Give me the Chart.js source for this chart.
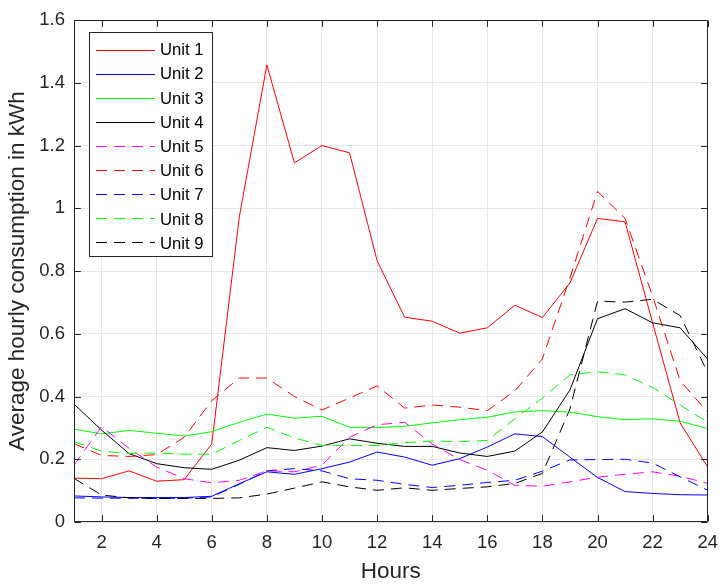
<!DOCTYPE html>
<html>
<head>
<meta charset="utf-8">
<title>Average hourly consumption</title>
<script src="https://cdn.jsdelivr.net/npm/chart.js@4.4.1/dist/chart.umd.min.js"></script>
<style>
  html, body { margin: 0; padding: 0; background: #ffffff; }
  #wrap { width: 728px; height: 584px; }
</style>
</head>
<body>
<div id="wrap"><canvas id="c" width="728" height="584"></canvas></div>
<script>
// Hour of day
const hours = [1, 2, 3, 4, 5, 6, 7, 8, 9, 10, 11, 12, 13, 14, 15, 16, 17, 18, 19, 20, 21, 22, 23, 24];

// Average hourly consumption per unit (kWh)
const unit1 = [0.140, 0.138, 0.163, 0.130, 0.135, 0.249, 0.973, 1.457, 1.145, 1.200, 1.177, 0.833, 0.653, 0.640, 0.602, 0.619, 0.691, 0.652, 0.762, 0.968, 0.957, 0.635, 0.316, 0.175];
const unit2 = [0.083, 0.080, 0.078, 0.078, 0.078, 0.082, 0.122, 0.160, 0.152, 0.170, 0.191, 0.223, 0.207, 0.181, 0.202, 0.239, 0.281, 0.272, 0.207, 0.142, 0.097, 0.091, 0.087, 0.086];
const unit3 = [0.296, 0.281, 0.292, 0.283, 0.274, 0.288, 0.318, 0.344, 0.331, 0.337, 0.302, 0.301, 0.305, 0.316, 0.326, 0.334, 0.351, 0.355, 0.350, 0.336, 0.326, 0.329, 0.321, 0.298];
const unit4 = [0.376, 0.293, 0.218, 0.186, 0.173, 0.168, 0.197, 0.237, 0.228, 0.242, 0.265, 0.251, 0.241, 0.241, 0.220, 0.209, 0.226, 0.287, 0.421, 0.648, 0.680, 0.635, 0.619, 0.519];
const unit5 = [0.181, 0.304, 0.235, 0.175, 0.138, 0.125, 0.133, 0.163, 0.160, 0.181, 0.270, 0.310, 0.318, 0.249, 0.199, 0.165, 0.117, 0.114, 0.128, 0.143, 0.152, 0.160, 0.146, 0.123];
const unit6 = [0.250, 0.212, 0.209, 0.215, 0.270, 0.387, 0.459, 0.459, 0.400, 0.357, 0.395, 0.434, 0.363, 0.373, 0.366, 0.355, 0.418, 0.520, 0.778, 1.054, 0.968, 0.720, 0.450, 0.350];
const unit7 = [0.077, 0.076, 0.076, 0.075, 0.076, 0.080, 0.120, 0.163, 0.170, 0.163, 0.138, 0.133, 0.120, 0.110, 0.117, 0.126, 0.133, 0.162, 0.198, 0.199, 0.200, 0.188, 0.144, 0.101];
const unit8 = [0.256, 0.226, 0.218, 0.220, 0.216, 0.216, 0.260, 0.302, 0.268, 0.244, 0.244, 0.244, 0.253, 0.258, 0.256, 0.260, 0.329, 0.395, 0.469, 0.479, 0.469, 0.429, 0.373, 0.318];
const unit9 = [0.139, 0.086, 0.077, 0.075, 0.075, 0.075, 0.077, 0.089, 0.108, 0.128, 0.112, 0.101, 0.109, 0.101, 0.107, 0.112, 0.123, 0.155, 0.360, 0.704, 0.701, 0.710, 0.658, 0.476];

const unitNames = ['Unit 1', 'Unit 2', 'Unit 3', 'Unit 4', 'Unit 5', 'Unit 6', 'Unit 7', 'Unit 8', 'Unit 9'];
const unitValues = [unit1, unit2, unit3, unit4, unit5, unit6, unit7, unit8, unit9];

// Tick positions
const xTickValues = [2, 4, 6, 8, 10, 12, 14, 16, 18, 20, 22, 24];
const yTickValues = [0, 0.2, 0.4, 0.6, 0.8, 1.0, 1.2, 1.4, 1.6];

// Line styles: solid for units 1-4, dashed for units 5-9
const lineColors = ['rgb(255,0,0)', 'rgb(0,0,255)', 'rgb(0,255,0)', 'rgb(0,0,0)', 'rgb(255,0,255)', 'rgb(255,0,0)', 'rgb(0,0,255)', 'rgb(0,255,0)', 'rgb(0,0,0)'];
const isDashed = [false, false, false, false, true, true, true, true, true];
const DASH_ON = 11, DASH_OFF = 7;

const FONT = '"Liberation Sans", Arial, Helvetica, sans-serif';
const AXIS_COLOR = '#262626';
const GRID_COLOR = '#e6e6e6';

const datasets = unitValues.map((vals, i) => ({
  label: unitNames[i],
  data: hours.map((h, k) => ({ x: h, y: vals[k] })),
  borderColor: lineColors[i],
  backgroundColor: lineColors[i],
  borderDash: isDashed[i] ? [DASH_ON, DASH_OFF] : [],
  borderWidth: 1,
  pointRadius: 0,
  pointHoverRadius: 0,
  tension: 0,
  fill: false,
  order: unitNames.length - i   // later units drawn on top
}));

// Box around the plot area with inward tick marks on all four sides
const axesBox = {
  id: 'axesBox',
  afterDatasetsDraw(chart) {
    const ctx = chart.ctx;
    const { left, right, top, bottom } = chart.chartArea;
    const L = Math.round(left) + 0.5, R = Math.round(right) - 0.5;
    const T = Math.round(top) + 0.5, B = Math.round(bottom) - 0.5;
    const tl = 6.4;
    ctx.save();
    ctx.strokeStyle = AXIS_COLOR;
    ctx.lineWidth = 1;
    ctx.setLineDash([]);
    ctx.beginPath();
    ctx.rect(L, T, R - L, B - T);
    chart.scales.x.ticks.forEach(t => {
      const px = Math.round(chart.scales.x.getPixelForValue(t.value)) + 0.5;
      ctx.moveTo(px, B); ctx.lineTo(px, B - tl);
      ctx.moveTo(px, T); ctx.lineTo(px, T + tl);
    });
    chart.scales.y.ticks.forEach(t => {
      const py = Math.round(chart.scales.y.getPixelForValue(t.value)) + 0.5;
      ctx.moveTo(L, py); ctx.lineTo(L + tl, py);
      ctx.moveTo(R, py); ctx.lineTo(R - tl, py);
    });
    ctx.stroke();
    ctx.restore();
  }
};

// Boxed legend placed inside the upper-left corner of the plot
const boxLegend = {
  id: 'boxLegend',
  afterDraw(chart) {
    const ctx = chart.ctx;
    const x0 = 89.5, y0 = 32.5, w = 123, h = 224;
    const sx0 = 96, sx1 = 155;
    ctx.save();
    ctx.setLineDash([]);
    ctx.fillStyle = '#ffffff';
    ctx.fillRect(x0, y0, w, h);
    ctx.strokeStyle = AXIS_COLOR;
    ctx.lineWidth = 1;
    ctx.strokeRect(x0, y0, w, h);
    unitNames.forEach((name, i) => {
      const ly = 50 + i * 24;           // sample line row
      const ty = 50.5 + i * 24.2;       // label centre
      ctx.fillStyle = lineColors[i];
      if (isDashed[i]) {
        for (let x = sx0; x < sx1; x += DASH_ON + DASH_OFF) {
          ctx.fillRect(x, ly, Math.min(DASH_ON, sx1 - x), 1);
        }
      } else {
        ctx.fillRect(sx0, ly, sx1 - sx0, 1);
      }
      ctx.fillStyle = '#000000';
      ctx.font = '16.7px ' + FONT;
      ctx.textAlign = 'left';
      ctx.textBaseline = 'middle';
      ctx.fillText(name, 160, ty);
    });
    ctx.restore();
  }
};

new Chart(document.getElementById('c'), {
  type: 'line',
  data: { datasets },
  options: {
    responsive: false,
    devicePixelRatio: 1,
    animation: false,
    events: [],
    layout: { padding: { top: 17, right: 14, left: 0, bottom: 0 } },
    plugins: {
      legend: { display: false },
      tooltip: { enabled: false },
      title: { display: false }
    },
    scales: {
      x: {
        type: 'linear',
        min: 1,
        max: 24,
        afterBuildTicks: (scale) => { scale.ticks = xTickValues.map(v => ({ value: v })); },
        afterFit: (scale) => { scale.height = 62; },
        grid: { color: GRID_COLOR, lineWidth: 1, drawTicks: false },
        border: { display: false },
        ticks: {
          color: AXIS_COLOR,
          font: { family: FONT, size: 18.5 },
          padding: 10,
          maxRotation: 0,
          autoSkip: false
        },
        title: {
          display: true,
          text: 'Hours',
          color: AXIS_COLOR,
          font: { family: FONT, size: 22.5, lineHeight: 1.05 },
          padding: { top: 0, bottom: 0 }
        }
      },
      y: {
        type: 'linear',
        min: 0,
        max: 1.6,
        afterBuildTicks: (scale) => { scale.ticks = yTickValues.map(v => ({ value: v })); },
        afterFit: (scale) => { scale.width = 74; },
        grid: { color: GRID_COLOR, lineWidth: 1, drawTicks: false },
        border: { display: false },
        ticks: {
          color: AXIS_COLOR,
          font: { family: FONT, size: 18.5 },
          padding: 9,
          autoSkip: false,
          callback: (v) => String(Number(Number(v).toFixed(1)))
        },
        title: {
          display: true,
          text: 'Average hourly consumption in kWh',
          color: AXIS_COLOR,
          font: { family: FONT, size: 22.5, lineHeight: 1.2 },
          padding: { top: 4, bottom: 0 }
        }
      }
    }
  },
  plugins: [axesBox, boxLegend]
});
</script>
</body>
</html>
